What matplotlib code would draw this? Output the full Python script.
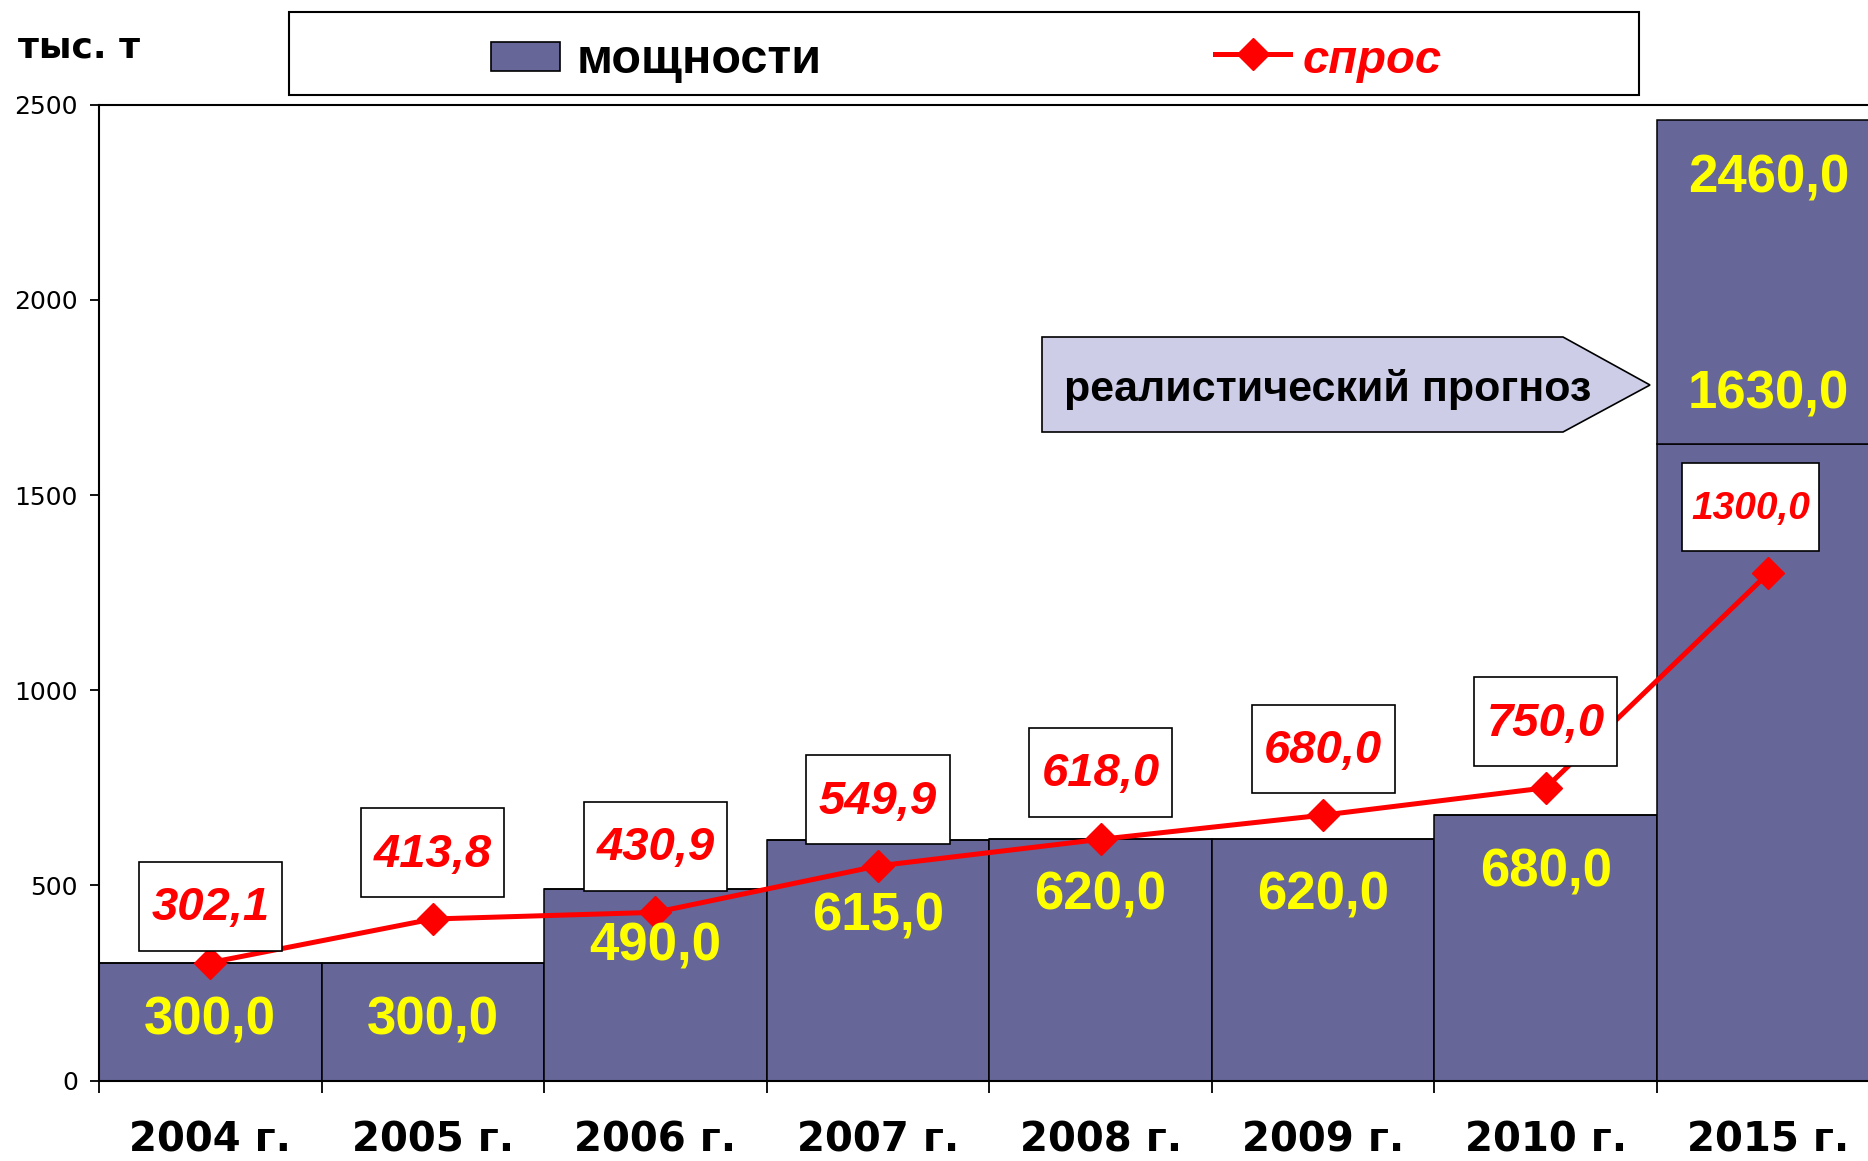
import matplotlib
matplotlib.use("Agg")
import matplotlib.pyplot as plt
from matplotlib.patches import Rectangle, Polygon
from matplotlib.lines import Line2D
from matplotlib.transforms import Affine2D, ScaledTranslation

# ---- data ----
years = ['2004 г.', '2005 г.', '2006 г.', '2007 г.', '2008 г.', '2009 г.', '2010 г.', '2015 г.']
capacity = [300.0, 300.0, 490.0, 615.0, 620.0, 620.0, 680.0, 1630.0]
capacity_forecast_total = 2460.0          # realistic forecast for 2015
demand = [302.1, 413.8, 430.9, 549.9, 618.0, 680.0, 750.0, 1300.0]
y_ticks = [0, 500, 1000, 1500, 2000, 2500]

BAR = '#666699'
RED = '#FF0000'
YEL = '#FFFF00'
W, H = 1868, 1161
DPI = 100

def fmt(v):
    return f"{v:.1f}".replace('.', ',')

fig = plt.figure(figsize=(W / DPI, H / DPI), dpi=DPI)
ax = fig.add_axes([98.9 / W, (H - 1080.5) / H, 1780.8 / W, 975.7 / H])

x = list(range(len(years)))
bars = ax.bar(x, capacity, width=1.0, color=BAR, edgecolor='black', linewidth=1.1, zorder=2)
extra = [0.0] * (len(years) - 1) + [capacity_forecast_total - capacity[-1]]
ax.bar(x, extra, bottom=capacity, width=1.0, color=BAR, edgecolor='black', linewidth=1.1, zorder=2)

ax.plot(x, demand, color=RED, lw=3.6, marker='D', ms=16, mec=RED, mfc=RED, zorder=4,
        clip_on=False)

ax.set_xlim(-0.5, 7.5)
ax.set_ylim(0, 2500)
ax.set_yticks(y_ticks)
ax.set_yticklabels([str(t) for t in y_ticks], fontsize=18, family='DejaVu Sans')
ax.tick_params(axis='y', direction='out', length=6.5, width=1.3, pad=8.5)

ax.set_xticks(x)
ax.set_xticklabels(years, fontsize=29, fontweight='bold', family='DejaVu Sans')
ax.set_xticks([i - 0.5 for i in range(len(years) + 1)], minor=True)
ax.tick_params(axis='x', which='major', length=0, pad=29)
ax.tick_params(axis='x', which='minor', direction='out', length=8.6, width=1.3)

for s in ['left', 'bottom', 'top']:
    ax.spines[s].set_linewidth(1.5)
ax.spines['right'].set_visible(False)

# yellow capacity labels (offset in points from bar top)
cap_offsets = [-41, -41, -41, -55, -41, -41, -41, 36]
for i, (v, off) in enumerate(zip(capacity, cap_offsets)):
    ax.annotate(fmt(v), (i, v), xytext=(0, off), textcoords='offset points',
                ha='center', va='center', color=YEL, fontsize=38, fontweight='bold',
                family='Liberation Sans', zorder=5)
ax.annotate(fmt(capacity_forecast_total), (7, capacity_forecast_total), xytext=(0, -41.5),
            textcoords='offset points', ha='center', va='center', color=YEL, fontsize=38,
            fontweight='bold', family='Liberation Sans', zorder=5)

# red demand labels in white boxes (offsets / box sizes in points)
dem_dx = [0, 0, 0, 0, 0, 0, 0, -12.9]
dem_dy = [40.7, 47.6, 47.6, 47.6, 48.3, 47.6, 47.6, 47.6]
box_w = [103, 103, 103, 103, 103, 103, 103, 98]
box_h = [64] * 8
dem_fs = [34, 34, 34, 34, 34, 34, 34, 28]
pt = Affine2D().scale(DPI / 72.0)
for i, v in enumerate(demand):
    tr = pt + ScaledTranslation(i, v, ax.transData)
    rect = Rectangle((dem_dx[i] - box_w[i] / 2, dem_dy[i] - box_h[i] / 2), box_w[i], box_h[i],
                     transform=tr, facecolor='white', edgecolor='black', lw=1.2,
                     zorder=6, clip_on=False)
    ax.add_artist(rect)
    ax.annotate(fmt(v), (i, v), xytext=(dem_dx[i], dem_dy[i] - 1.5), textcoords='offset points',
                ha='center', va='center', color=RED, fontsize=dem_fs[i], fontweight='bold',
                fontstyle='italic', family='Liberation Sans', zorder=7)

# forecast arrow shape
def fpx(px, py):
    return (px / W, (H - py) / H)

arrow_pts = [fpx(1042, 337), fpx(1563, 337), fpx(1650, 385), fpx(1563, 432), fpx(1042, 432)]
fig.add_artist(Polygon(arrow_pts, closed=True, transform=fig.transFigure,
                       facecolor='#CDCDE8', edgecolor='black', lw=1.2, zorder=8))
fig.text(*fpx(1064, 390), 'реалистический прогноз', ha='left', va='center', fontsize=31,
         fontweight='bold', family='Liberation Sans', color='black', zorder=9)

# unit label
fig.text(*fpx(18, 58), 'тыс. т', ha='left', va='baseline', fontsize=26,
         fontweight='bold', family='DejaVu Sans')

# legend (manual)
x0, y0 = fpx(289, 95)
x1, y1 = fpx(1639, 12)
fig.add_artist(Rectangle((x0, y0), x1 - x0, y1 - y0, transform=fig.transFigure,
                         facecolor='white', edgecolor='black', lw=1.5, zorder=10))
sx0, sy0 = fpx(491, 71)
sx1, sy1 = fpx(560, 42)
fig.add_artist(Rectangle((sx0, sy0), sx1 - sx0, sy1 - sy0, transform=fig.transFigure,
                         facecolor=BAR, edgecolor='black', lw=1.2, zorder=11))
fig.text(*fpx(577, 73), 'мощности', ha='left', va='baseline', fontsize=35,
         fontweight='bold', family='Liberation Sans', zorder=11)
lx = [1215 / W, 1252.5 / W, 1290 / W]
ly = [(H - 54) / H] * 3
fig.add_artist(Line2D(lx, ly, transform=fig.transFigure, color=RED, lw=3.6, marker='D',
                      ms=16, markevery=[1], mfc=RED, mec=RED, zorder=11))
fig.text(*fpx(1303, 73), 'спрос', ha='left', va='baseline', fontsize=34, fontweight='bold',
         fontstyle='italic', family='Liberation Sans', color=RED, zorder=11)

fig.savefig('out.png', dpi=DPI)
